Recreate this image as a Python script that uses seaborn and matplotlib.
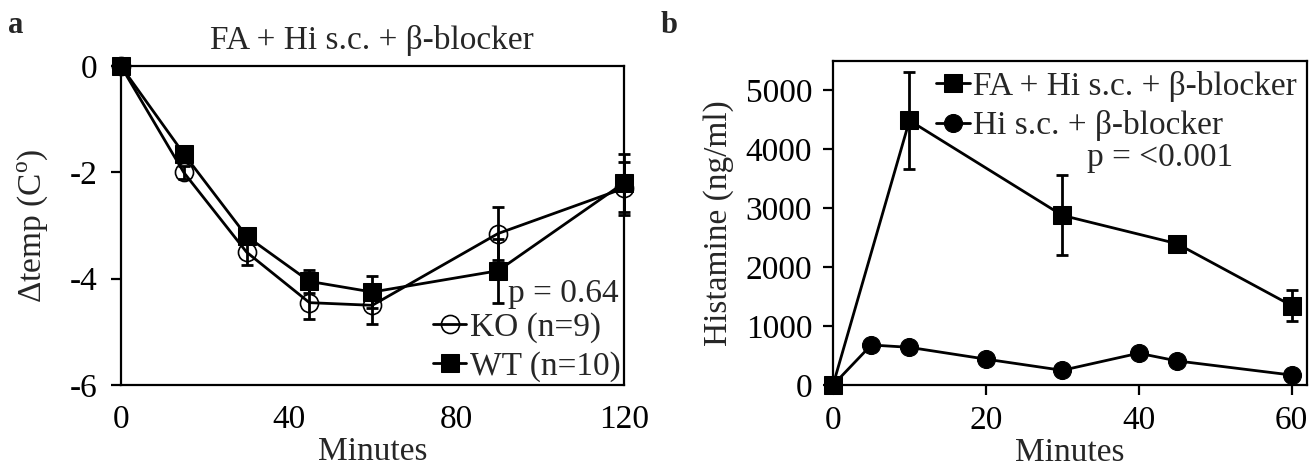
import pandas as pd
import matplotlib
matplotlib.use('Agg')
import matplotlib.pyplot as plt
import seaborn as sns

# panel a: body temperature change
temp_minutes = [0, 15, 30, 45, 60, 90, 120]
wt_temp = [0, -1.65, -3.2, -4.05, -4.25, -3.85, -2.2]
wt_err = [0, 0.12, 0.12, 0.22, 0.3, 0.6, 0.55]
ko_temp = [0, -2.0, -3.5, -4.45, -4.5, -3.15, -2.3]
ko_err = [0, 0.12, 0.25, 0.3, 0.35, 0.5, 0.5]

# panel b: plasma histamine
fa_minutes = [0, 10, 30, 45, 60]
fa_hist = [0, 4490, 2880, 2400, 1350]
fa_err = [0, 820, 680, 0, 260]
hi_minutes = [0, 5, 10, 20, 30, 40, 45, 60]
hi_hist = [0, 680, 640, 440, 250, 540, 410, 170]


def main():
    sns.set_theme(style='ticks')
    plt.rcParams['font.family'] = ['Liberation Serif', 'DejaVu Serif']
    plt.rcParams['mathtext.fontset'] = 'custom'
    plt.rcParams['mathtext.rm'] = 'Liberation Serif'
    plt.rcParams['axes.linewidth'] = 1.6
    plt.rcParams['axes.unicode_minus'] = False

    fig = plt.figure(figsize=(13.16, 4.69), dpi=100)
    ax1 = fig.add_axes([0.0919, 0.179, 0.382, 0.680])
    ax2 = fig.add_axes([0.633, 0.179, 0.360, 0.691])

    df_a = pd.DataFrame({'min': temp_minutes, 'wt': wt_temp, 'ko': ko_temp})
    ax1.errorbar(temp_minutes, ko_temp, yerr=ko_err, fmt='none', ecolor='black',
                 elinewidth=2, capsize=4, capthick=2, zorder=2, clip_on=False)
    ax1.errorbar(temp_minutes, wt_temp, yerr=wt_err, fmt='none', ecolor='black',
                 elinewidth=2, capsize=4, capthick=2, zorder=2, clip_on=False)
    sns.lineplot(data=df_a, x='min', y='ko', ax=ax1, color='black', lw=2,
                 marker='o', markersize=13, markerfacecolor='none',
                 markeredgecolor='black', markeredgewidth=1.2, label='KO (n=9)',
                 zorder=3, clip_on=False)
    sns.lineplot(data=df_a, x='min', y='wt', ax=ax1, color='black', lw=2,
                 marker='s', markersize=13, markerfacecolor='black',
                 markeredgecolor='black', label='WT (n=10)', zorder=4, clip_on=False)

    ax1.set_xlim(0, 120)
    ax1.set_ylim(-6, 0)
    ax1.set_xticks([0, 40, 80, 120])
    ax1.set_yticks([0, -2, -4, -6])
    ax1.tick_params(axis='x', length=0, pad=14, labelsize=24, colors='black')
    ax1.tick_params(axis='y', length=7, width=1.6, pad=10, labelsize=24, colors='black')
    ax1.set_xlabel('Minutes', fontsize=24, labelpad=1)
    ax1.set_ylabel('Δtemp (C$^{\\mathrm{o}}$)', fontsize=24, labelpad=14)
    ax1.set_title('FA + Hi s.c. + β-blocker', fontsize=24, pad=12)
    for s in ax1.spines.values():
        s.set_color('black')
        s.set_visible(True)
        s.set_zorder(5)
    ax1.text(0.99, 0.285, 'p = 0.64', transform=ax1.transAxes, ha='right',
             va='center', fontsize=24)
    ax1.legend(loc='lower right', frameon=False, fontsize=24, handlelength=1.0,
               handletextpad=0.1, borderaxespad=0.0, labelspacing=0.25,
               borderpad=0.1)

    df_fa = pd.DataFrame({'min': fa_minutes, 'val': fa_hist})
    df_hi = pd.DataFrame({'min': hi_minutes, 'val': hi_hist})
    ax2.errorbar(fa_minutes, fa_hist, yerr=fa_err, fmt='none', ecolor='black',
                 elinewidth=2, capsize=4, capthick=2, zorder=2, clip_on=False)
    sns.lineplot(data=df_fa, x='min', y='val', ax=ax2, color='black', lw=2,
                 marker='s', markersize=13, markerfacecolor='black',
                 markeredgecolor='black', label='FA + Hi s.c. + β-blocker',
                 zorder=4, clip_on=False)
    sns.lineplot(data=df_hi, x='min', y='val', ax=ax2, color='black', lw=2,
                 marker='o', markersize=13, markerfacecolor='black',
                 markeredgecolor='black', label='Hi s.c. + β-blocker',
                 zorder=3, clip_on=False)

    ax2.set_xlim(0, 62)
    ax2.set_ylim(0, 5500)
    ax2.set_xticks([0, 20, 40, 60])
    ax2.set_yticks([0, 1000, 2000, 3000, 4000, 5000])
    ax2.tick_params(axis='both', length=7, width=1.6, pad=8, labelsize=24, colors='black')
    ax2.set_xlabel('Minutes', fontsize=24, labelpad=1)
    ax2.set_ylabel('Histamine (ng/ml)', fontsize=24, labelpad=8)
    for s in ax2.spines.values():
        s.set_color('black')
        s.set_visible(True)
        s.set_zorder(5)
    ax2.legend(loc='upper right', frameon=False, fontsize=24, handlelength=1.0,
               handletextpad=0.1, borderaxespad=0.1, labelspacing=0.25,
               borderpad=0.2)
    ax2.text(0.69, 0.70, 'p = <0.001', transform=ax2.transAxes, ha='center',
             va='center', fontsize=24)

    fig.text(0.006, 0.93, 'a', fontsize=22, fontweight='bold')
    fig.text(0.502, 0.93, 'b', fontsize=22, fontweight='bold')

    fig.savefig('out.png', dpi=100)


if __name__ == '__main__':
    main()
